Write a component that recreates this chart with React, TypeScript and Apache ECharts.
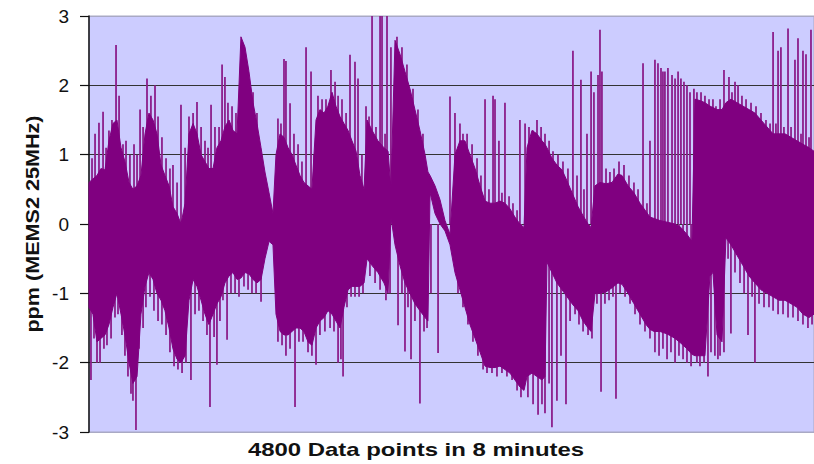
import React, { useEffect, useRef } from "react";
import * as echarts from "echarts";

// Envelope of the dense oscillation (data-point index, upper and lower edge in ppm)
const POINT_INDEX = [
  0, 26, 53, 79, 106, 132, 159, 185, 212, 238,
  265, 291, 318, 344, 371, 397, 424, 450, 477, 503,
  530, 556, 583, 609, 636, 662, 689, 715, 742, 768,
  794, 821, 847, 874, 900, 927, 953, 980, 1006, 1033,
  1059, 1086, 1112, 1139, 1165, 1192, 1218, 1238, 1265, 1291,
  1318, 1344, 1370, 1397, 1423, 1450, 1476, 1503, 1529, 1556,
  1582, 1609, 1635, 1662, 1688, 1715, 1741, 1768, 1794, 1821,
  1841, 1874, 1913, 1953, 1980, 1999, 2026, 2059, 2092, 2125,
  2158, 2191, 2225, 2244, 2258, 2291, 2324, 2357, 2390, 2423,
  2456, 2489, 2522, 2556, 2589, 2622, 2655, 2688, 2721, 2754,
  2787, 2820, 2853, 2880, 2900, 2933, 2966, 2999, 3019, 3032,
  3065, 3098, 3132, 3165, 3198, 3238, 3271, 3304, 3324, 3350,
  3383, 3423, 3463, 3502, 3529, 3569, 3608, 3648, 3688, 3714,
  3741, 3780, 3820, 3840, 3880, 3919, 3959, 3992, 4012, 4045,
  4078, 4111, 4131, 4158, 4191, 4217, 4250, 4290, 4330, 4370,
  4409, 4449, 4489, 4529, 4568, 4608, 4648, 4687, 4727, 4767,
  4800,
];
const UPPER = [
  0.6, 0.65, 0.7, 0.8, 0.78, 1.2, 1.45, 1.5, 1.1, 0.9,
  0.6, 0.5, 0.55, 0.7, 1.3, 1.6, 1.5, 1.3, 0.85, 0.7,
  0.55, 0.25, 0.15, 0.0, 0.3, 1.3, 1.45, 1.3, 1.0, 0.9,
  0.8, 0.8, 1.1, 1.2, 1.4, 1.5, 1.35, 1.3, 2.7, 2.55,
  2.2, 1.75, 1.45, 1.1, 0.75, 0.45, 0.15, 1.0, 1.3, 1.25,
  1.1, 1.0, 0.85, 0.7, 0.6, 0.55, 0.5, 1.5, 1.65, 1.6,
  1.7, 1.9, 1.7, 1.55, 1.45, 1.35, 1.2, 1.05, 0.7, 0.5,
  1.5, 1.35, 1.2, 1.1, 1.05, 0.5, 2.65, 2.45, 2.2, 1.95,
  1.65, 1.35, 1.0, 0.75, 0.7, 0.55, 0.35, 0.05, -0.15, 1.0,
  1.2, 1.2, 1.0, 0.8, 0.55, 0.33, 0.3, 0.3, 0.33, 0.3,
  0.22, 0.1, 0.0, -0.05, 1.1, 1.35, 1.3, 1.2, 1.15, 1.1,
  0.95, 0.85, 0.78, 0.62, 0.45, 0.25, 0.12, 0.0, -0.05, 0.55,
  0.6, 0.58, 0.6, 0.72, 0.7, 0.55, 0.45, 0.3, 0.18, 0.1,
  0.08, 0.05, 0.03, 0.02, 0.0, -0.05, -0.15, -0.25, 1.8, 1.78,
  1.75, 1.7, 1.68, 1.65, 1.65, 1.75, 1.8, 1.75, 1.7, 1.65,
  1.6, 1.5, 1.4, 1.3, 1.3, 1.3, 1.25, 1.2, 1.15, 1.1,
  1.05,
];
const LOWER = [
  -1.2, -1.3, -1.7, -1.65, -1.6, -1.45, -1.2, -1.0, -1.3, -1.6,
  -2.0, -2.3, -2.2, -1.3, -0.9, -0.7, -0.8, -1.0, -1.1, -1.25,
  -1.5, -1.8, -1.95, -2.0, -1.9, -1.1, -0.8, -0.9, -1.1, -1.3,
  -1.45, -1.3, -1.15, -1.05, -0.85, -0.75, -0.7, -0.8, -0.78, -0.7,
  -0.72, -0.8, -0.85, -0.8, -0.5, -0.25, -0.3, -1.3, -1.55, -1.6,
  -1.6, -1.55, -1.5, -1.5, -1.55, -1.7, -1.75, -1.5, -1.4, -1.35,
  -1.25, -1.3, -1.4, -1.5, -1.2, -0.95, -0.9, -0.9, -0.9, -0.85,
  -0.5, -0.6, -0.7, -0.85, -1.0, 0.1, -0.3, -0.6, -0.85, -1.0,
  -1.15, -1.25, -1.35, -1.4, 0.45, 0.15, 0.0, -0.1, -0.3, -0.7,
  -0.95, -1.2, -1.45, -1.65, -1.85, -2.05, -2.07, -2.07, -2.05, -2.1,
  -2.15, -2.25, -2.35, -2.4, -2.2, -2.15, -2.2, -2.25, -2.2, -0.55,
  -0.7, -0.85, -0.95, -1.05, -1.15, -1.25, -1.4, -1.5, -1.55, -1.0,
  -1.0, -0.98, -0.92, -0.85, -0.87, -1.0, -1.15, -1.3, -1.45, -1.52,
  -1.55, -1.55, -1.58, -1.6, -1.65, -1.72, -1.8, -1.88, -1.9, -1.9,
  -1.9, -0.75, -0.7, -1.6, -1.7, -0.2, -0.3, -0.45, -0.6, -0.75,
  -0.85, -0.95, -1.0, -1.05, -1.1, -1.1, -1.15, -1.2, -1.3, -1.35,
  -1.3,
];

// Thin excursions above the dense band (data-point index, peak in ppm)
const SPIKE_UP_INDEX = [
  20, 40, 66, 93, 113, 132, 152, 179, 199, 225,
  245, 271, 298, 318, 338, 358, 384, 410, 437, 457,
  483, 510, 536, 556, 583, 609, 636, 662, 689, 715,
  742, 768, 788, 808, 834,
  861, 881, 900, 920, 947, 973, 1086, 1112, 1251, 1271,
  1291, 1304, 1331, 1357, 1384, 1410, 1437, 1470, 1490, 1516,
  1543, 1569, 1602, 1629,
  1649, 1675, 1702, 1728, 1761, 1781, 1807, 1834, 1854, 1874,
  1900, 1927, 1940, 1960, 1973, 1999, 2039, 2072, 2105, 2145,
  2178, 2211, 2390,
  2423, 2456, 2476, 2503, 2536, 2569, 2595, 2622, 2648, 2675,
  2688, 2714, 2734, 2754, 2781, 2807, 2834, 2853, 2887, 2913,
  2940, 2966, 2993, 3019, 3046, 3072, 3105, 3138, 3171,
  3204, 3231, 3257, 3277, 3297, 3324, 3343, 3370, 3383, 3396,
  3423, 3449, 3476, 3509, 3542, 3575, 3608, 3635, 3668, 3694,
  3714, 3747, 3767, 3787, 3800, 3813, 3833, 3860, 3880, 3900,
  3919, 3939, 3959, 3979,
  4005, 4025, 4052, 4078, 4105, 4131, 4151, 4178, 4204, 4237,
  4257, 4277, 4297, 4323, 4350, 4383, 4416, 4449, 4482, 4509,
  4529, 4548, 4562, 4581, 4601, 4628, 4648, 4674, 4694, 4714,
  4727, 4747, 4767, 4780,
];
const SPIKE_UP_VALUE = [
  0.95, 1.3, 1.46, 1.62, 1.1, 1.35, 1.5, 2.58, 1.85, 1.15,
  1.2, 1.0, 1.15, 1.0, 1.65, 1.4, 2.1, 1.85, 2.0, 1.55,
  1.25, 0.95, 0.8, 0.85, 0.6, 1.72, 1.1, 1.55, 1.6, 1.76,
  1.4, 1.2, 1.1, 1.72, 1.4,
  1.4, 2.3, 2.12, 1.75, 1.7, 1.6, 1.9, 1.6, 1.52, 1.45,
  2.38, 2.35, 1.74, 1.3, 1.15, 0.9, 2.55, 2.2, 1.0, 1.85,
  1.8, 1.8, 2.22, 2.05,
  1.85, 1.8, 1.6, 2.44, 2.34, 2.1, 1.0, 1.7, 1.55, 3.5,
  1.4, 3.5, 3.5, 1.3, 3.5, 2.55, 2.7, 2.55, 2.3, 1.95,
  1.65, 1.3, 1.84,
  1.6, 1.45, 1.3, 1.3, 1.15, 0.95, 0.7, 1.8, 0.5, 1.85,
  1.8, 1.2, 0.45, 1.75, 0.4, 0.3, 0.2, 1.5, 1.45, 1.4,
  1.35, 1.5, 1.4, 1.3, 1.2, 1.05, 1.0, 0.9, 0.8,
  2.5, 0.7, 2.08, 0.5, 1.3, 2.2, 1.9, 2.15, 2.8, 2.2,
  0.8, 0.75, 0.8, 0.9, 0.85, 0.7, 0.6, 0.5, 2.32, 0.3,
  1.2, 2.37, 2.32, 2.25, 2.2, 2.2, 2.25, 2.15, 2.1, 2.2,
  2.1, 2.05, 2.0, 1.9,
  1.95, 1.9, 1.9, 1.85, 1.8, 1.8, 1.7, 1.8, 2.22, 2.12,
  1.9, 2.05, 2.0, 1.85, 1.8, 1.75, 1.7, 1.6, 1.5, 1.45,
  2.77, 1.45, 2.5, 2.55, 1.4, 2.82, 1.4, 2.37, 2.68, 1.3,
  2.5, 2.45, 1.25, 2.8,
];

// Thin excursions below the dense band (data-point index, trough in ppm)
const SPIKE_DOWN_INDEX = [
  13, 33, 53, 73, 99, 119, 146, 172, 192, 218,
  238, 258, 278, 291, 311, 331, 358, 377, 404, 430,
  457, 483, 510, 536, 563, 589, 616, 642, 675, 702,
  728, 755, 781, 801, 828, 847,
  867, 887, 914, 940, 967, 993, 1026, 1053, 1079, 1106,
  1139, 1251, 1278, 1304, 1331, 1364, 1390, 1417, 1450, 1476,
  1503, 1529, 1562, 1596, 1622,
  1649, 1668, 1682, 1708, 1735, 1761, 1788, 1814, 1860, 1894,
  1927, 1966, 1993, 2046, 2072, 2092, 2112, 2132, 2158, 2191,
  2218, 2238, 2264, 2311,
  2443, 2476, 2509, 2542, 2575, 2609, 2635, 2668, 2701, 2734,
  2767, 2801, 2834, 2860, 2906, 2940, 2973, 2999, 3019, 3046,
  3065, 3098, 3125, 3158, 3185,
  3218, 3244, 3271, 3304, 3330, 3363, 3390, 3416, 3443, 3469,
  3489, 3516, 3549, 3582, 3615, 3648, 3681, 3714, 3747, 3774,
  3800, 3827, 3853, 3880, 3906, 3933, 3959, 3986,
  4025, 4045, 4072, 4098, 4118, 4144, 4164, 4178, 4204, 4231,
  4250, 4277, 4310, 4337, 4363, 4390, 4409, 4436, 4469, 4502,
  4529, 4562, 4595, 4628, 4661, 4694, 4727, 4760, 4787,
];
const SPIKE_DOWN_VALUE = [
  -2.25, -1.65, -2.0, -2.0, -1.8, -1.75, -1.65, -1.35, -1.3, -1.6,
  -1.9, -2.2, -2.45, -2.55, -2.97, -1.8, -1.5, -1.2, -1.05, -1.25,
  -1.4, -1.45, -1.6, -1.85, -2.05, -2.1, -2.15, -2.0, -2.25, -1.3,
  -1.25, -1.4, -1.6, -2.64, -1.63, -2.03,
  -1.4, -1.1, -1.67, -1.0, -1.0, -1.05, -0.9, -0.95, -1.0, -1.0,
  -1.12, -1.7, -1.75, -1.9, -1.8, -2.64, -1.7, -1.7, -1.85, -1.9,
  -2.03, -1.6, -1.55, -1.5, -1.55,
  -2.0, -1.95, -2.2, -1.2, -1.05, -1.05, -1.05, -1.0, -0.75, -0.85,
  -0.95, -1.1, -1.0, -1.46, -1.0, -1.84, -1.2, -1.95, -1.4, -2.59,
  -1.55, -1.5, -1.0, -1.86,
  -1.0, -1.2, -1.45, -1.7, -1.9, -2.1, -2.15, -2.15, -2.2, -2.15,
  -2.2, -2.25, -2.4, -2.5, -2.5, -2.6, -2.75, -2.6, -2.73, -2.3,
  -2.93, -2.55, -1.9, -2.6, -1.4,
  -1.3, -1.45, -1.55, -1.6, -1.65, -1.15, -2.42, -1.15, -1.1, -1.05,
  -2.52, -1.0, -1.05, -1.15, -1.3, -1.45, -1.55, -1.65, -1.85, -1.9,
  -1.8, -1.95, -1.85, -2.0, -1.9, -1.95, -2.0, -2.05,
  -2.0, -2.05, -2.0, -2.2, -1.85, -1.9, -1.95, -1.9, -1.85, -0.5,
  -1.58, -0.7, -0.85, -1.0, -1.6, -1.05, -2.0, -1.15, -1.2, -1.2,
  -1.25, -1.3, -1.3, -1.35, -1.35, -1.4, -1.45, -1.5, -1.45,
];

const Y_MIN = -3;
const Y_MAX = 3;
const Y_STEP = 1;
const X_TITLE = "4800 Data points in 8 minutes";
const Y_TITLE = "ppm (MEMS2 25MHz)";

const PURPLE = "#800080";
const SPIKE_PURPLE = "#8c1f8c";

function pairs(xs: number[], ys: number[]) {
  const n = Math.min(xs.length, ys.length);
  return Array.from({ length: n }, (_, i) => [xs[i], ys[i]]);
}

export default function App() {
  const ref = useRef<HTMLDivElement>(null);

  useEffect(() => {
    if (!ref.current) return;
    const chart = echarts.init(ref.current, null, { renderer: "svg" });
    const n = Math.min(POINT_INDEX.length, UPPER.length, LOWER.length);

    chart.setOption({
      animation: false,
      backgroundColor: "#ffffff",
      grid: {
        left: 89,
        right: 0,
        top: 16,
        bottom: 32,
        show: true,
        backgroundColor: "#ccccff",
        borderColor: "#a9a9c4",
        borderWidth: 1,
      },
      xAxis: {
        type: "value",
        min: 0,
        max: 4800,
        axisLine: { show: false },
        axisTick: { show: false },
        axisLabel: { show: false },
        splitLine: { show: false },
      },
      yAxis: {
        type: "value",
        min: Y_MIN,
        max: Y_MAX,
        interval: Y_STEP,
        axisLine: { show: true, lineStyle: { color: "#111", width: 1.5 } },
        axisTick: { show: true, length: 9, inside: false, lineStyle: { color: "#111", width: 1.2 } },
        axisLabel: {
          fontFamily: "Liberation Sans, Arial, sans-serif",
          fontSize: 19,
          color: "#111",
          margin: 20,
        },
        splitLine: {
          show: true,
          lineStyle: {
            color: ["#a9a9c4", "#333333", "#333333", "#333333", "#333333", "#333333", "#a9a9c4"],
            width: 1,
          },
        },
      },
      series: [
        {
          type: "bar",
          name: "spikes up",
          data: pairs(SPIKE_UP_INDEX, SPIKE_UP_VALUE),
          barWidth: 1.8,
          barGap: "-100%",
          itemStyle: { color: SPIKE_PURPLE },
          silent: true,
          z: 2,
        },
        {
          type: "bar",
          name: "spikes down",
          data: pairs(SPIKE_DOWN_INDEX, SPIKE_DOWN_VALUE),
          barWidth: 1.8,
          barGap: "-100%",
          itemStyle: { color: SPIKE_PURPLE },
          silent: true,
          z: 2,
        },
        {
          type: "custom",
          name: "envelope",
          silent: true,
          z: 3,
          data: [[POINT_INDEX[0], UPPER[0]]],
          renderItem: (params: any, api: any) => {
            if (params.dataIndex !== 0) return null;
            const top: number[][] = [];
            const bot: number[][] = [];
            for (let i = 0; i < n; i++) {
              top.push(api.coord([POINT_INDEX[i], UPPER[i]]));
              bot.push(api.coord([POINT_INDEX[i], LOWER[i]]));
            }
            bot.reverse();
            return {
              type: "polygon",
              shape: { points: top.concat(bot) },
              style: { fill: PURPLE, stroke: PURPLE, lineWidth: 1 },
            };
          },
        },
      ],
      graphic: [
        {
          type: "text",
          x: 416,
          y: 450,
          scaleX: 1.33,
          style: {
            text: X_TITLE,
            font: "bold 18px 'Liberation Sans', Arial, sans-serif",
            fill: "#111",
            textAlign: "center",
            textVerticalAlign: "middle",
            align: "center",
            verticalAlign: "middle",
          },
        },
        {
          type: "text",
          x: 33,
          y: 224,
          rotation: Math.PI / 2,
          scaleX: 1.2,
          style: {
            text: Y_TITLE,
            font: "bold 18px 'Liberation Sans', Arial, sans-serif",
            fill: "#111",
            textAlign: "center",
            textVerticalAlign: "middle",
            align: "center",
            verticalAlign: "middle",
          },
        },
      ],
    });

    return () => chart.dispose();
  }, []);

  return (
    <div
      ref={ref}
      style={{ position: "fixed", left: 0, top: 0, width: 814, height: 464, background: "#fff" }}
    />
  );
}
